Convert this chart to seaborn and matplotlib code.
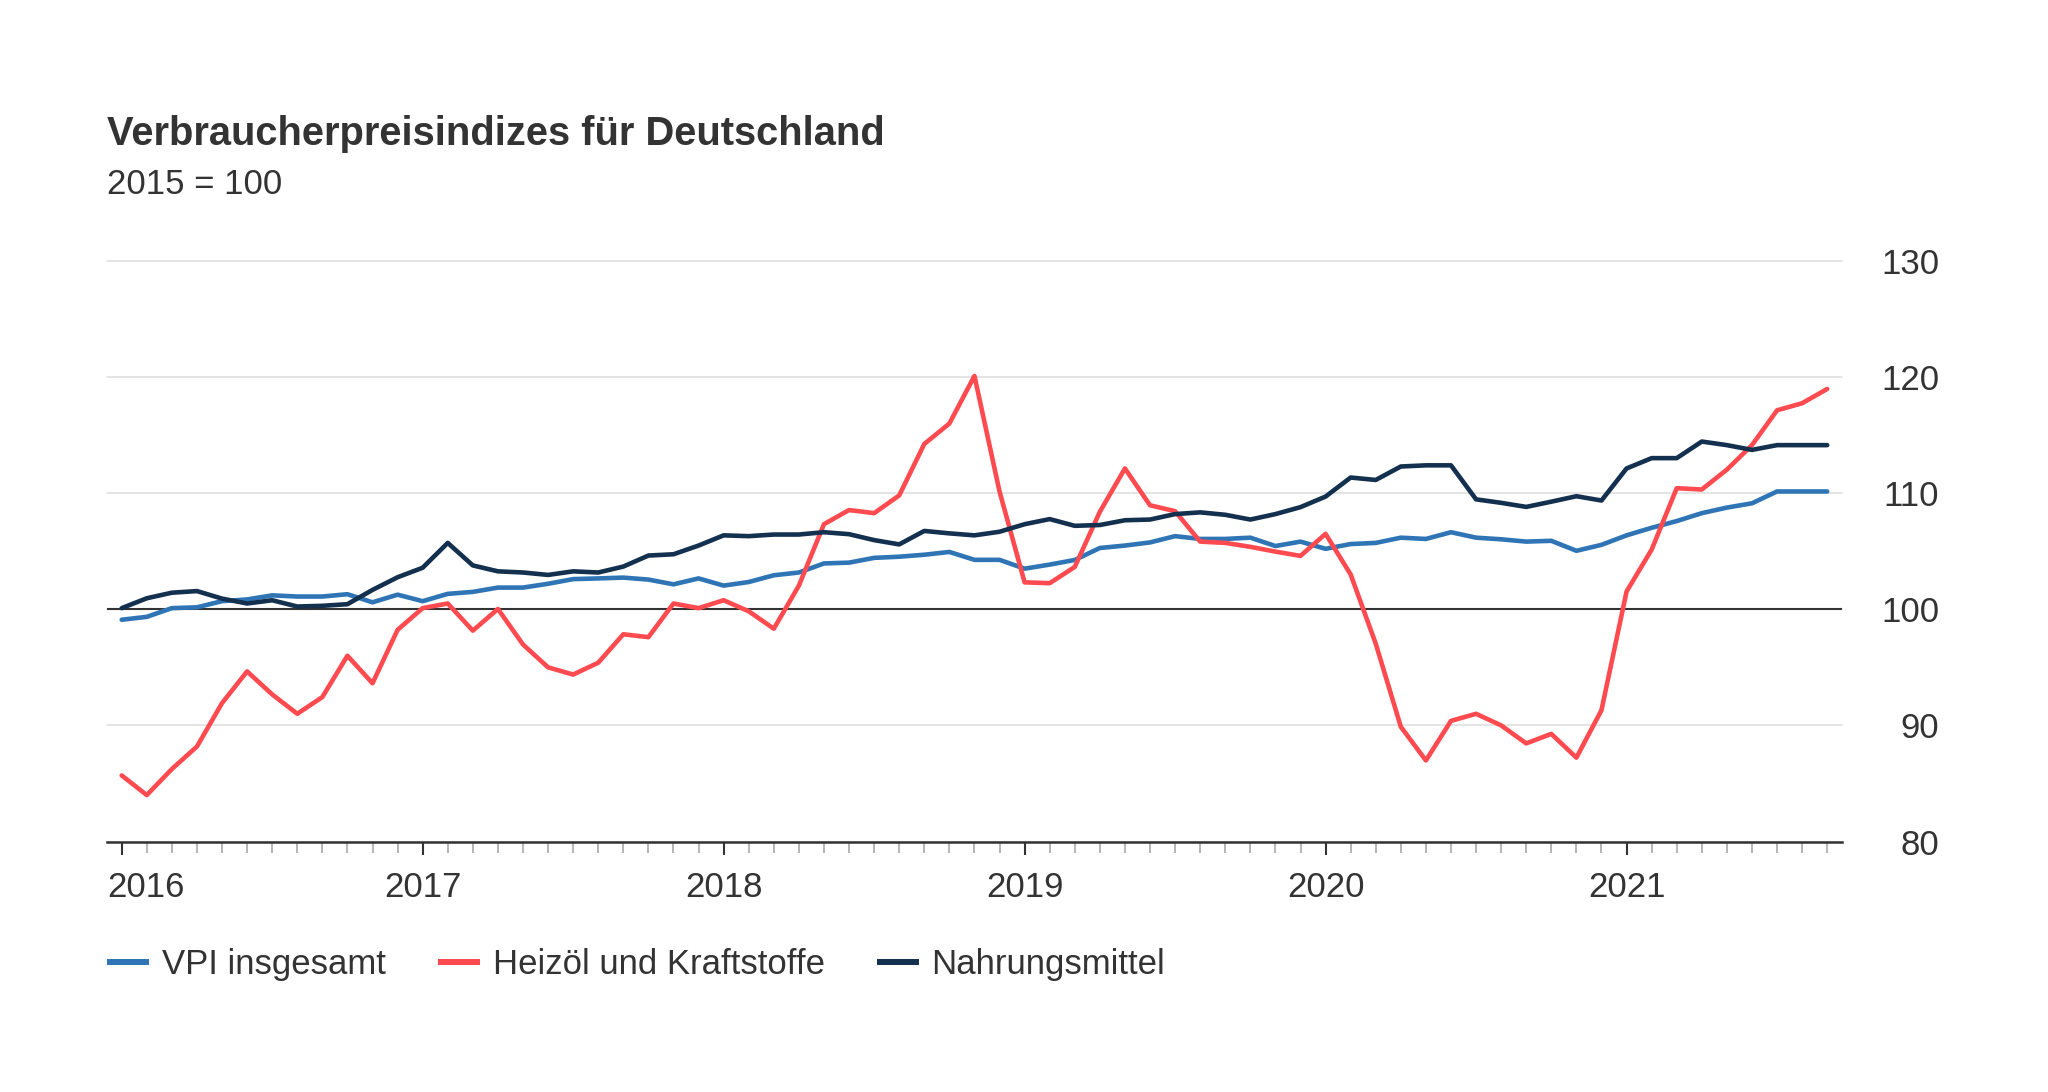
import numpy as np
import pandas as pd
import matplotlib
matplotlib.use('Agg')
import matplotlib.pyplot as plt
import matplotlib.transforms as mtransforms
import seaborn as sns

# Verbraucherpreisindizes, monatlich Jan 2016 - Sep 2021 (2015 = 100)
reihen = ['VPI insgesamt', 'Heizöl und Kraftstoffe', 'Nahrungsmittel']
farben = ['#2f75b6', '#ff4a50', '#14304f']

vpi = [99.1, 99.35, 100.1, 100.17, 100.7, 100.85, 101.2, 101.1, 101.1, 101.3, 100.6, 101.26,
       100.7, 101.33, 101.5, 101.87, 101.87, 102.2, 102.6, 102.66, 102.73, 102.56, 102.15, 102.66,
       102.04, 102.35, 102.93, 103.17, 103.95, 104.02, 104.43, 104.53, 104.7, 104.94, 104.26, 104.26,
       103.5, 103.85, 104.25, 105.28, 105.49, 105.76, 106.3, 106.06, 106.06, 106.17, 105.45, 105.83,
       105.21, 105.62, 105.72, 106.17, 106.06, 106.64, 106.17, 106.03, 105.83, 105.9, 105.04, 105.55,
       106.37, 107.02, 107.6, 108.28, 108.76, 109.13, 110.15, 110.15, 110.15]

heizoel = [85.69, 84.0, 86.24, 88.18, 91.92, 94.65, 92.67, 91.0, 92.44, 96.0, 93.63, 98.23,
           100.1, 100.5, 98.16, 100.03, 96.97, 95.0, 94.38, 95.4, 97.85, 97.6, 100.5, 100.1,
           100.78, 99.83, 98.33, 102.04, 107.33, 108.55, 108.28, 109.81, 114.24, 116.0, 120.1, 110.15,
           102.32, 102.25, 103.65, 108.4, 112.13, 108.96, 108.45, 105.83, 105.72, 105.38, 104.97, 104.6,
           106.5, 103.0, 97.04, 89.88, 86.98, 90.39, 91.0, 90.0, 88.45, 89.27, 87.22, 91.31,
           101.53, 105.14, 110.43, 110.32, 112.03, 114.14, 117.14, 117.75, 118.98]

nahrung = [100.1, 100.95, 101.43, 101.57, 100.92, 100.5, 100.78, 100.24, 100.3, 100.44, 101.67, 102.76,
           103.58, 105.72, 103.78, 103.27, 103.17, 102.96, 103.27, 103.17, 103.68, 104.63, 104.74, 105.49,
           106.37, 106.3, 106.44, 106.44, 106.64, 106.47, 105.96, 105.59, 106.75, 106.54, 106.37, 106.68,
           107.33, 107.77, 107.19, 107.26, 107.67, 107.73, 108.2, 108.35, 108.14, 107.73, 108.2, 108.8,
           109.71, 111.35, 111.14, 112.3, 112.4, 112.4, 109.47, 109.17, 108.82, 109.27, 109.74, 109.37,
           112.13, 113.02, 113.02, 114.45, 114.14, 113.73, 114.14, 114.14, 114.14]

jahre = ['2016', '2017', '2018', '2019', '2020', '2021']
y_ticks = [80, 90, 100, 110, 120, 130]

monate = np.arange(len(vpi))
df = pd.DataFrame({
    'monat': np.tile(monate, 3),
    'wert': vpi + heizoel + nahrung,
    'reihe': np.repeat(reihen, len(vpi)),
})

sns.set_style('white')
plt.rcParams['font.family'] = ['Liberation Sans', 'DejaVu Sans']
textfarbe = '#333333'

fig = plt.figure(figsize=(20.48, 10.92), dpi=100)
ax = fig.add_axes([107 / 2048, 250.5 / 1092, (1842 - 107) / 2048, 580.5 / 1092])

sns.lineplot(data=df, x='monat', y='wert', hue='reihe', hue_order=reihen,
             palette=farben, linewidth=3.3, ax=ax,
             solid_capstyle='round', solid_joinstyle='round')

ax.set_xlim(-0.586, 68.59)
ax.set_ylim(80, 130)
ax.set_xlabel('')
ax.set_ylabel('')

# Gitter und 100-Linie
ax.set_axisbelow(True)
ax.yaxis.grid(True, color='#dcdcdc', linewidth=1.1)
ax.xaxis.grid(False)
ax.axhline(100, color=textfarbe, linewidth=1.5, zorder=1.5)

for s in ['top', 'left', 'right']:
    ax.spines[s].set_visible(False)
ax.spines['bottom'].set_color(textfarbe)
ax.spines['bottom'].set_linewidth(1.8)

# x-Achse: Jahre + Monatsstriche
ax.set_xticks(np.arange(0, 61, 12))
ax.set_xticklabels(jahre)
ax.set_xticks([m for m in monate if m % 12 != 0], minor=True)
ax.tick_params(axis='x', which='major', length=9.5, width=1.5, color=textfarbe,
               labelsize=25, labelcolor=textfarbe, pad=12, bottom=True)
ax.tick_params(axis='x', which='minor', length=8, width=1.4, color='#b4b4b4', bottom=True)
erste = ax.get_xticklabels()[0]
erste.set_ha('left')
erste.set_transform(erste.get_transform() +
                    mtransforms.ScaledTranslation(-14.7 / 100, 0, fig.dpi_scale_trans))

# y-Achse rechts
ax.yaxis.tick_right()
ax.set_yticks(y_ticks)
ax.tick_params(axis='y', length=0, pad=70, labelsize=25, labelcolor=textfarbe)
for lab in ax.get_yticklabels():
    lab.set_ha('right')
for gl in ax.get_ygridlines():
    gl.set_clip_on(False)

# Legende
handles, labels = ax.get_legend_handles_labels()
ax.get_legend().remove()
leg = fig.legend(handles, labels, loc='center left', bbox_to_anchor=(107 / 2048, 1 - 964.7 / 1092),
                 ncol=3, frameon=False, fontsize=25, handlelength=1.22, handletextpad=0.36,
                 columnspacing=1.5, borderpad=0, borderaxespad=0)
for line in leg.get_lines():
    line.set_linewidth(4.3)
    line.set_solid_capstyle('butt')
for t in leg.get_texts():
    t.set_color(textfarbe)

fig.text(107 / 2048, 1 - 145 / 1092, 'Verbraucherpreisindizes für Deutschland',
         fontsize=28.7, fontweight='bold', color=textfarbe, va='baseline', ha='left')
fig.text(107 / 2048, 1 - 194.3 / 1092, '2015 = 100',
         fontsize=25, color=textfarbe, va='baseline', ha='left')

fig.savefig('out.png', dpi=100, facecolor='white')
